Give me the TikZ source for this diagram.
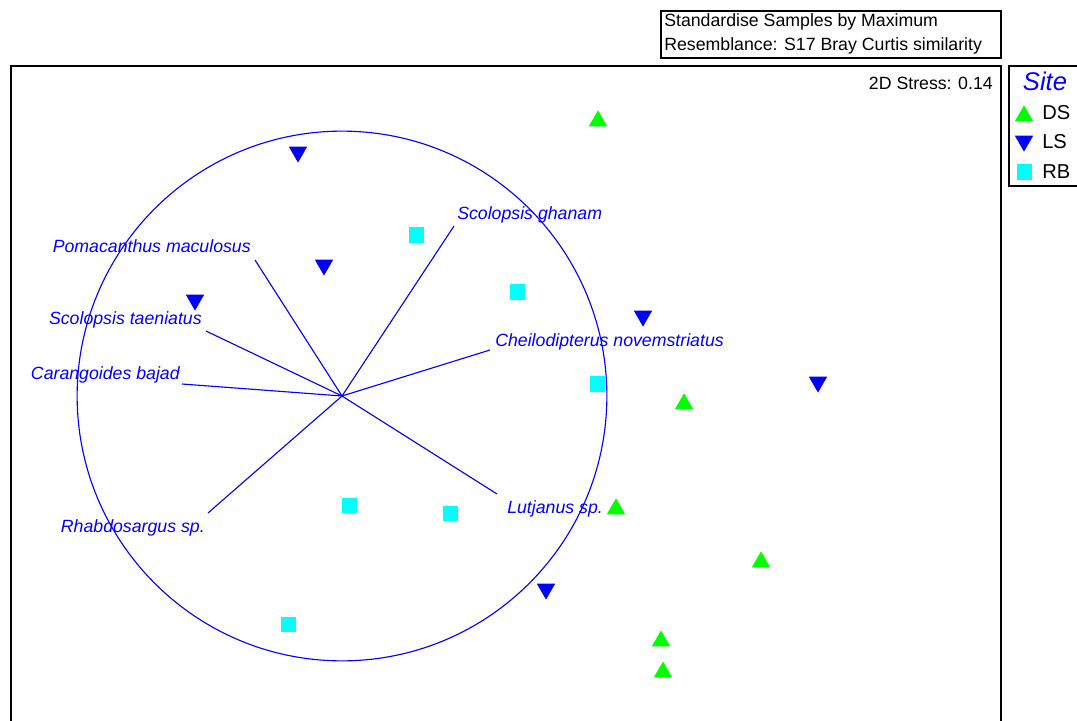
\documentclass[tikz,border=0pt]{standalone}
\usepackage{fontspec}
\setmainfont{Liberation Sans}
\usetikzlibrary{shapes.geometric}
\definecolor{dsgreen}{RGB}{0,255,0}
\definecolor{lsblue}{RGB}{0,0,255}
\definecolor{rbcyan}{RGB}{0,255,255}
\tikzset{
  dsmark/.style={regular polygon, regular polygon sides=3, fill=dsgreen, inner sep=0pt, minimum size=0.53cm},
  lsmark/.style={regular polygon, regular polygon sides=3, shape border rotate=180, fill=lsblue, inner sep=0pt, minimum size=0.53cm},
  rbmark/.style={rectangle, fill=rbcyan, inner sep=0pt, minimum size=0.375cm},
  species/.style={text=lsblue, inner sep=0pt, font=\fontsize{12.6}{15}\selectfont\itshape, text height=1.5ex, text depth=.25ex},
  vector/.style={draw=lsblue, line width=0.8pt},
  info/.style={inner sep=0pt, font=\fontsize{12.6}{15}\selectfont}
}
\begin{document}
\begin{tikzpicture}[x=0.025cm, y=-0.025cm]
        \clip (0,0) rectangle (1077,721);

        % Draw frames
        \draw[line width=1pt] (11,740) -- (11,66) -- (1001,66) -- (1001,740);
        \draw[line width=1pt] (661,11) rectangle (1001,58);
        \draw[line width=1pt] (1100,66) -- (1009,66) -- (1009,186) -- (1100,186);

        % Define the texts
        \node[info, anchor=west] (T1) at (664,22) {Standardise Samples by Maximum};
        \node[info, anchor=west] (T2) at (664,46) {Resemblance: S17 Bray Curtis similarity};
        \node[info, anchor=east] (St) at (993,83) {2D Stress: 0.14};

        % Draw circle
        \coordinate (O) at (342,396);
        \draw[lsblue, line width=0.8pt] (O) circle [radius=6.62cm];

        % Define the vectors
        \coordinate (V1) at (454,226);
        \coordinate (V2) at (255,260);
        \coordinate (V3) at (206,331);
        \coordinate (V4) at (182,384);
        \coordinate (V5) at (490,350);
        \coordinate (V6) at (497,494);
        \coordinate (V7) at (208,513);

        \node[species, anchor=west] (L1) at (457,215) {Scolopsis ghanam};
        \node[species, anchor=east] (L2) at (251,248) {Pomacanthus maculosus};
        \node[species, anchor=east] (L3) at (202,320) {Scolopsis taeniatus};
        \node[species, anchor=east] (L4) at (180,375) {Carangoides bajad};
        \node[species, anchor=west] (L5) at (495,342) {Cheilodipterus novemstriatus};
        \node[species, anchor=west] (L6) at (507,509) {Lutjanus sp.};
        \node[species, anchor=east] (L7) at (205,528) {Rhabdosargus sp.};

        % Draw vectors
        \draw[vector] (O) -- (V1);
        \draw[vector] (O) -- (V2);
        \draw[vector] (O) -- (V3);
        \draw[vector] (O) -- (V4);
        \draw[vector] (O) -- (V5);
        \draw[vector] (O) -- (V6);
        \draw[vector] (O) -- (V7);

        % Define the samples
        \node[dsmark] (D1) at (598,121) {};
        \node[dsmark] (D2) at (684,404) {};
        \node[dsmark] (D3) at (616,509) {};
        \node[dsmark] (D4) at (761,562) {};
        \node[dsmark] (D5) at (661,641) {};
        \node[dsmark] (D6) at (663,672) {};

        \node[lsmark] (S1) at (298,152) {};
        \node[lsmark] (S2) at (324,265) {};
        \node[lsmark] (S3) at (195,300) {};
        \node[lsmark] (S4) at (643,316) {};
        \node[lsmark] (S5) at (818,382) {};
        \node[lsmark] (S6) at (546,589) {};

        \node[rbmark] (R1) at (416,235) {};
        \node[rbmark] (R2) at (517,292) {};
        \node[rbmark] (R3) at (597,384) {};
        \node[rbmark] (R4) at (349,505) {};
        \node[rbmark] (R5) at (450,513) {};
        \node[rbmark] (R6) at (288,624) {};

        % Draw legend
        \node[text=lsblue, inner sep=0pt, font=\fontsize{18.2}{20}\selectfont\itshape] (Site) at (1045,81) {Site};
        \node[dsmark] (K1) at (1024,116) {};
        \node[lsmark] (K2) at (1024,141) {};
        \node[rbmark] (K3) at (1024,172) {};
        \node[inner sep=0pt, anchor=west, font=\fontsize{14.3}{16}\selectfont] (N1) at (1042,113) {DS};
        \node[inner sep=0pt, anchor=west, font=\fontsize{14.3}{16}\selectfont] (N2) at (1042,142) {LS};
        \node[inner sep=0pt, anchor=west, font=\fontsize{14.3}{16}\selectfont] (N3) at (1042,172) {RB};
    \end{tikzpicture}
\end{document}
